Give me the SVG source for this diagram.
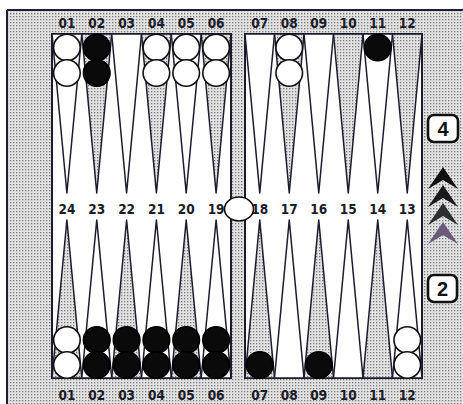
<svg xmlns="http://www.w3.org/2000/svg" width="463" height="404" viewBox="0 0 463 404">
<defs>
<pattern id="stip" width="3" height="3" patternUnits="userSpaceOnUse">
<rect width="3" height="3" fill="#e2e2e2"/>
<rect x="1" y="1" width="1.3" height="1.3" fill="#7a7a7a"/>
</pattern>
<style>
.tri{stroke:#1b1b2e;stroke-width:1.5;stroke-linejoin:round}
.w{fill:#ffffff}
.s{fill:url(#stip)}
.board{fill:#ffffff;stroke:#1b1b2e;stroke-width:2}
.lbl{font-family:"DejaVu Sans Condensed","Liberation Sans Narrow",sans-serif;font-size:13.5px;font-weight:bold;fill:#1c1c28;text-anchor:middle}
.wc{fill:#ffffff;stroke:#111;stroke-width:1.6}
.bc{fill:#0a0a0a;stroke:#000;stroke-width:1.6}
.die{fill:#ffffff;stroke:#111;stroke-width:2.6}
.dnum{font-family:"Liberation Sans",Arial,sans-serif;font-size:20px;font-weight:bold;fill:#111;text-anchor:middle}
</style>
</defs>
<rect width="463" height="404" fill="#ffffff"/>
<g id="frame">
<rect x="7" y="10" width="456" height="394" fill="url(#stip)"/>
<line x1="7" y1="10" x2="7" y2="404" stroke="#1b1b3a" stroke-width="2"/>
<line x1="7" y1="10" x2="463" y2="10" stroke="#1b1b3a" stroke-width="2"/>
</g>
<g id="left-board">
<rect class="board" x="52" y="34" width="179" height="344"/>
<polygon class="tri w" points="52,34 81.8,34 66.9,193"/>
<polygon class="tri s" points="81.8,34 111.7,34 96.75,193"/>
<polygon class="tri w" points="111.7,34 141.5,34 126.6,193"/>
<polygon class="tri s" points="141.5,34 171.3,34 156.4,193"/>
<polygon class="tri w" points="171.3,34 201.2,34 186.2,193"/>
<polygon class="tri s" points="201.2,34 231,34 216.1,193"/>
<polygon class="tri s" points="52,378 81.8,378 66.9,220"/>
<polygon class="tri w" points="81.8,378 111.7,378 96.75,220"/>
<polygon class="tri s" points="111.7,378 141.5,378 126.6,220"/>
<polygon class="tri w" points="141.5,378 171.3,378 156.4,220"/>
<polygon class="tri s" points="171.3,378 201.2,378 186.2,220"/>
<polygon class="tri w" points="201.2,378 231,378 216.1,220"/>
</g>
<g id="right-board">
<rect class="board" x="245" y="34" width="177" height="344"/>
<polygon class="tri w" points="245,34 274.5,34 259.75,193"/>
<polygon class="tri s" points="274.5,34 304,34 289.25,193"/>
<polygon class="tri w" points="304,34 333.5,34 318.75,193"/>
<polygon class="tri s" points="333.5,34 363,34 348.25,193"/>
<polygon class="tri w" points="363,34 392.5,34 377.75,193"/>
<polygon class="tri s" points="392.5,34 422,34 407.25,193"/>
<polygon class="tri s" points="245,378 274.5,378 259.75,220"/>
<polygon class="tri w" points="274.5,378 304,378 289.25,220"/>
<polygon class="tri s" points="304,378 333.5,378 318.75,220"/>
<polygon class="tri w" points="333.5,378 363,378 348.25,220"/>
<polygon class="tri s" points="363,378 392.5,378 377.75,220"/>
<polygon class="tri w" points="392.5,378 422,378 407.25,220"/>
</g>
<g id="top-labels" class="lbl">
<text x="66.9" y="28">01</text><text x="96.75" y="28">02</text><text x="126.6" y="28">03</text>
<text x="156.4" y="28">04</text><text x="186.2" y="28">05</text><text x="216.1" y="28">06</text>
<text x="259.75" y="28">07</text><text x="289.25" y="28">08</text><text x="318.75" y="28">09</text>
<text x="348.25" y="28">10</text><text x="377.75" y="28">11</text><text x="407.25" y="28">12</text>
</g>
<g id="mid-labels" class="lbl">
<text x="66.9" y="214">24</text><text x="96.75" y="214">23</text><text x="126.6" y="214">22</text>
<text x="156.4" y="214">21</text><text x="186.2" y="214">20</text><text x="216.1" y="214">19</text>
<text x="259.75" y="214">18</text><text x="289.25" y="214">17</text><text x="318.75" y="214">16</text>
<text x="348.25" y="214">15</text><text x="377.75" y="214">14</text><text x="407.25" y="214">13</text>
</g>
<g id="bottom-labels" class="lbl">
<text x="66.9" y="400">01</text><text x="96.75" y="400">02</text><text x="126.6" y="400">03</text>
<text x="156.4" y="400">04</text><text x="186.2" y="400">05</text><text x="216.1" y="400">06</text>
<text x="259.75" y="400">07</text><text x="289.25" y="400">08</text><text x="318.75" y="400">09</text>
<text x="348.25" y="400">10</text><text x="377.75" y="400">11</text><text x="407.25" y="400">12</text>
</g>
<g id="checkers-top">
<circle class="wc" cx="66.9" cy="47.5" r="13.3"/><circle class="wc" cx="66.9" cy="73" r="13.3"/>
<circle class="bc" cx="96.75" cy="47.5" r="13.3"/><circle class="bc" cx="96.75" cy="73" r="13.3"/>
<circle class="wc" cx="156.4" cy="47.5" r="13.3"/><circle class="wc" cx="156.4" cy="73" r="13.3"/>
<circle class="wc" cx="186.2" cy="47.5" r="13.3"/><circle class="wc" cx="186.2" cy="73" r="13.3"/>
<circle class="wc" cx="216.1" cy="47.5" r="13.3"/><circle class="wc" cx="216.1" cy="73" r="13.3"/>
<circle class="wc" cx="289.25" cy="47.5" r="13.3"/><circle class="wc" cx="289.25" cy="73" r="13.3"/>
<circle class="bc" cx="377.75" cy="47.5" r="13.3"/>
</g>
<g id="checkers-bottom">
<circle class="wc" cx="66.9" cy="340" r="13.3"/><circle class="wc" cx="66.9" cy="365" r="13.3"/>
<circle class="bc" cx="96.75" cy="340" r="13.3"/><circle class="bc" cx="96.75" cy="365" r="13.3"/>
<circle class="bc" cx="126.6" cy="340" r="13.3"/><circle class="bc" cx="126.6" cy="365" r="13.3"/>
<circle class="bc" cx="156.4" cy="340" r="13.3"/><circle class="bc" cx="156.4" cy="365" r="13.3"/>
<circle class="bc" cx="186.2" cy="340" r="13.3"/><circle class="bc" cx="186.2" cy="365" r="13.3"/>
<circle class="bc" cx="216.1" cy="340" r="13.3"/><circle class="bc" cx="216.1" cy="365" r="13.3"/>
<circle class="bc" cx="259.75" cy="365" r="13.3"/>
<circle class="bc" cx="318.75" cy="365" r="13.3"/>
<circle class="wc" cx="407.25" cy="340" r="13.3"/><circle class="wc" cx="407.25" cy="365" r="13.3"/>
</g>
<g id="bar-checker">
<ellipse class="wc" cx="239" cy="209" rx="14.5" ry="12"/>
</g>
<g id="die-4">
<rect class="die" x="428" y="115" width="30" height="27" rx="6"/>
<text class="dnum" x="443" y="136">4</text>
</g>
<g id="chevrons">
<polygon fill="#111111" points="443,167 458,189 443,180 428,189"/>
<polygon fill="#1a1a1e" points="443,185 458,207 443,198 428,207"/>
<polygon fill="#2c2f30" points="443,203 458,225 443,216 428,225"/>
<polygon fill="#6a5a7c" points="443,222 458,244 443,235 428,244"/>
</g>
<g id="die-2">
<rect class="die" x="428" y="275" width="29" height="27" rx="6"/>
<text class="dnum" x="442.5" y="296">2</text>
</g>
</svg>
